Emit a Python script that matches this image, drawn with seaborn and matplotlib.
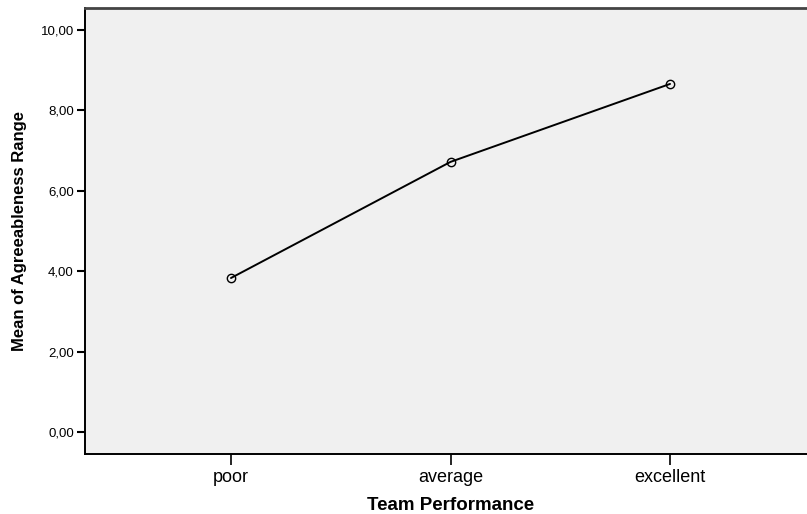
import matplotlib
matplotlib.use("Agg")
import matplotlib.pyplot as plt
import seaborn as sns

categories = ["poor", "average", "excellent"]
values = [3.83, 6.72, 8.66]
yticks = [0, 2, 4, 6, 8, 10]
ytick_labels = ["0,00", "2,00", "4,00", "6,00", "8,00", "10,00"]

sns.set_style("ticks")
plt.rcParams["font.family"] = ["Liberation Sans", "DejaVu Sans"]
plt.rcParams["text.color"] = "black"
plt.rcParams["axes.labelcolor"] = "black"
plt.rcParams["xtick.color"] = "black"
plt.rcParams["ytick.color"] = "black"

fig = plt.figure(figsize=(8.07, 5.14), dpi=100)
W, H = 807, 514
ax = fig.add_axes([85 / W, (514 - 454) / H, (816 - 85) / W, (454 - 8) / H])
ax.set_facecolor("#f0f0f0")

sns.pointplot(x=categories, y=values, ax=ax, color="black", markers="o",
              markersize=6, markerfacecolor="none", markeredgewidth=1.0,
              linewidth=1.4, errorbar=None)

ax.set_xlim(-0.665, 2.665)
ax.set_ylim(-0.55, 10.55)
ax.set_yticks(yticks)
ax.set_yticklabels(ytick_labels, fontsize=9.5)
ax.tick_params(axis="y", direction="out", length=6, width=1.5, color="black", pad=2)
ax.tick_params(axis="x", direction="out", length=8, width=1.2, color="black", labelsize=13, pad=3)
for s in ["left", "bottom"]:
    ax.spines[s].set_visible(True)
    ax.spines[s].set_color("black")
    ax.spines[s].set_linewidth(1.4)
ax.spines["top"].set_visible(True)
ax.spines["top"].set_color("#444444")
ax.spines["top"].set_linewidth(2)
ax.spines["right"].set_visible(False)

ax.set_xlabel("Team Performance", fontsize=13.5, fontweight="bold", labelpad=8)
ax.set_ylabel("Mean of Agreeableness Range", fontsize=12, fontweight="bold", labelpad=10)

fig.savefig("out.png", dpi=100)
